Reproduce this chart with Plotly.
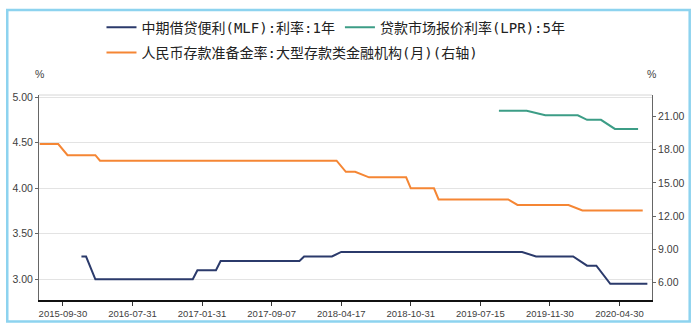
import plotly.graph_objects as go

# Category positions (periods) for the date labels shown on the x axis
x_labels = ["2015-09-30", "2016-07-31", "2017-01-31", "2017-09-07", "2018-04-17",
            "2018-10-31", "2019-07-15", "2019-11-30", "2020-04-30"]
x_label_pos = [5, 20, 35, 50, 65, 80, 95, 110, 125]

# MLF 1-year rate (%), left axis: period index and value at each change point
mlf_pos = [9, 10, 12, 33, 34, 38, 39, 56, 57, 63, 65, 104, 107, 115, 118, 120, 123, 131]
mlf_val = [3.25, 3.25, 3.00, 3.00, 3.10, 3.10, 3.20, 3.20, 3.25, 3.25, 3.30, 3.30,
           3.25, 3.25, 3.15, 3.15, 2.95, 2.95]

# LPR 5-year (%), left axis
lpr_pos = [99, 105, 109, 116, 118, 121, 124, 129]
lpr_val = [4.85, 4.85, 4.80, 4.80, 4.75, 4.75, 4.65, 4.65]

# Reserve requirement ratio, large institutions (%), right axis
rrr_pos = [0, 4, 6, 12, 13, 64, 66, 68, 71, 79, 80, 85, 86, 101, 103, 114, 117, 130]
rrr_val = [18.5, 18.5, 17.5, 17.5, 17.0, 17.0, 16.0, 16.0, 15.5, 15.5, 14.5, 14.5,
           13.5, 13.5, 13.0, 13.0, 12.5, 12.5]

left_ticks = [3.00, 3.50, 4.00, 4.50, 5.00]
right_ticks = [6.00, 9.00, 12.00, 15.00, 18.00, 21.00]

NAVY = "#2b3a6b"
TEAL = "#3c9d86"
ORANGE = "#f58634"

W, H = 697, 331
ML, MR, MT, MB = 37, 42, 92, 29
PW, PH = W - ML - MR, H - MT - MB

fig = go.Figure()
fig.add_trace(go.Scatter(x=mlf_pos, y=mlf_val, mode="lines", name="中期借贷便利(MLF):利率:1年",
                         line=dict(color=NAVY, width=2), legend="legend"))
fig.add_trace(go.Scatter(x=lpr_pos, y=lpr_val, mode="lines", name="贷款市场报价利率(LPR):5年",
                         line=dict(color=TEAL, width=2), legend="legend"))
fig.add_trace(go.Scatter(x=rrr_pos, y=rrr_val, mode="lines",
                         name="人民币存款准备金率:大型存款类金融机构(月)(右轴)",
                         line=dict(color=ORANGE, width=2), yaxis="y2", legend="legend2"))

def px_x(px):
    return (px - ML) / PW

def px_y(py):
    return (H - MB - py) / PH

tick_font = dict(family="Liberation Sans, Arial, sans-serif", size=10.5, color="#404040")
# half-width latin glyphs next to the CJK characters
legend_font = dict(family="DejaVu Sans Mono, Noto Sans CJK SC, monospace", size=14, color="#222222")

fig.update_layout(
    width=W, height=H,
    margin=dict(l=ML, r=MR, t=MT, b=MB, pad=0),
    paper_bgcolor="white", plot_bgcolor="white",
    showlegend=True,
    legend=dict(orientation="h", x=px_x(100), xanchor="left", y=px_y(23), yanchor="middle",
                font=legend_font, bgcolor="rgba(0,0,0,0)", borderwidth=0),
    legend2=dict(orientation="h", x=px_x(100), xanchor="left", y=px_y(49), yanchor="middle",
                 font=legend_font, bgcolor="rgba(0,0,0,0)", borderwidth=0),
    xaxis=dict(
        range=[-0.15, 132.0], tickmode="array", tickvals=x_label_pos, ticktext=x_labels,
        showgrid=False, zeroline=False, showline=True, linecolor="#111111", linewidth=2,
        ticks="outside", ticklen=4, tickcolor="#333333", tickwidth=1,
        tickfont=dict(family="Liberation Sans, Arial, sans-serif", size=9.5, color="#404040"),
    ),
    yaxis=dict(
        range=[2.773, 5.022], tickmode="array", tickvals=left_ticks,
        ticktext=[f"{v:.2f}" for v in left_ticks],
        showgrid=True, gridcolor="#e3e3e3", gridwidth=1, zeroline=False,
        showline=True, linecolor="#666666", linewidth=1,
        ticks="outside", ticklen=3, tickcolor="#666666", tickfont=tick_font,
    ),
    yaxis2=dict(
        range=[4.41, 22.94], overlaying="y", side="right", tickmode="array",
        tickvals=right_ticks, ticktext=[f"{v:.2f}" for v in right_ticks],
        showgrid=False, zeroline=False, showline=True, linecolor="#666666", linewidth=1,
        ticks="outside", ticklen=3, tickcolor="#666666", tickfont=tick_font,
    ),
    shapes=[
        # thin top edge of the plotting area
        dict(type="line", xref="paper", yref="paper", x0=0, x1=1, y0=1, y1=1,
             line=dict(color="#d6d6d6", width=1), layer="below"),
        # light blue frame around the whole chart
        dict(type="rect", xref="paper", yref="paper",
             x0=px_x(5), x1=px_x(693), y0=px_y(324), y1=px_y(5),
             line=dict(color="#8dd3ef", width=2.5), fillcolor="rgba(0,0,0,0)"),
    ],
    annotations=[
        dict(text="%", xref="paper", yref="paper", x=px_x(37), y=px_y(71), xanchor="center",
             yanchor="middle", showarrow=False, font=tick_font),
        dict(text="%", xref="paper", yref="paper", x=px_x(654), y=px_y(71), xanchor="center",
             yanchor="middle", showarrow=False, font=tick_font),
    ],
)

fig.write_html("out.html")
